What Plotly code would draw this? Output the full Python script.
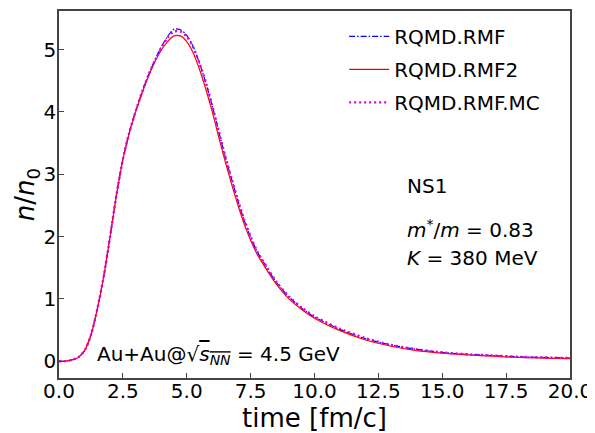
import plotly.graph_objects as go

t = [0, 0.25, 0.5, 0.75, 1.0, 1.25, 1.5, 1.75, 2.0, 2.25, 2.5, 2.75, 3.0, 3.25, 3.5, 3.75,
     4.0, 4.25, 4.5, 4.75, 5.0, 5.25, 5.5, 5.75, 6.0, 6.25, 6.5, 6.75, 7.0, 7.25, 7.5, 7.75,
     8.0, 8.5, 9.0, 9.5, 10, 11, 12, 13, 14, 15, 16, 17, 18, 19, 20]

rmf2 = [0.0, 0.0, 0.02, 0.06, 0.17, 0.42, 0.84, 1.36, 2.00, 2.67, 3.23, 3.66, 4.00, 4.30, 4.57, 4.80,
        4.99, 5.13, 5.22, 5.22, 5.13, 4.95, 4.68, 4.36, 4.00, 3.60, 3.21, 2.85, 2.51, 2.20, 1.94, 1.72,
        1.55, 1.24, 1.00, 0.83, 0.69, 0.49, 0.34, 0.24, 0.17, 0.13, 0.10, 0.08, 0.06, 0.05, 0.04]

rmf = [0.0, 0.0, 0.02, 0.06, 0.17, 0.42, 0.84, 1.36, 2.00, 2.67, 3.24, 3.67, 4.01, 4.32, 4.59, 4.83,
       5.04, 5.21, 5.33, 5.32, 5.23, 5.05, 4.78, 4.46, 4.09, 3.69, 3.29, 2.93, 2.58, 2.26, 1.99, 1.76,
       1.59, 1.27, 1.03, 0.85, 0.71, 0.51, 0.36, 0.26, 0.19, 0.14, 0.11, 0.09, 0.07, 0.06, 0.05]

rmf_mc = [0.0, 0.0, 0.02, 0.06, 0.17, 0.42, 0.84, 1.36, 2.00, 2.67, 3.24, 3.67, 4.01, 4.32, 4.59, 4.82,
          5.03, 5.19, 5.29, 5.29, 5.21, 5.04, 4.78, 4.47, 4.10, 3.70, 3.30, 2.94, 2.59, 2.27, 2.00, 1.77,
          1.60, 1.28, 1.04, 0.86, 0.72, 0.52, 0.37, 0.26, 0.19, 0.14, 0.11, 0.09, 0.07, 0.06, 0.05]

x_ticks = [0.0, 2.5, 5.0, 7.5, 10.0, 12.5, 15.0, 17.5, 20.0]
x_tick_labels = ["0.0", "2.5", "5.0", "7.5", "10.0", "12.5", "15.0", "17.5", "20.0"]
y_ticks = [0, 1, 2, 3, 4, 5]

FONT = "DejaVu Sans"
AX = "#444444"

fig = go.Figure()
fig.add_trace(go.Scatter(x=t, y=rmf, mode="lines", name="RQMD.RMF", legendgroup="a",
                         line=dict(color="#0000ff", width=1.2, dash="6px,2px,1.5px,2px",
                                   shape="spline", smoothing=0.8)))
fig.add_trace(go.Scatter(x=t, y=rmf2, mode="lines", name="RQMD.RMF2", legendgroup="b",
                         line=dict(color="#ff0000", width=1.2, shape="spline", smoothing=0.8)))
fig.add_trace(go.Scatter(x=t, y=rmf_mc, mode="lines", name="RQMD.RMF.MC", legendgroup="c",
                         line=dict(color="#dd00dd", width=2.4, dash="2px,3px",
                                   shape="spline", smoothing=0.8)))

# The page body has an 8px default margin, so the figure is 8px smaller and margins shifted.
fig.update_layout(
    width=587, height=425,
    margin=dict(l=51, r=25, t=3, b=55),
    plot_bgcolor="white", paper_bgcolor="white",
    font=dict(family=FONT, size=20, color="black"),
    showlegend=True,
    legend=dict(x=0.558, y=0.984, xanchor="left", yanchor="top", bgcolor="rgba(0,0,0,0)",
                font=dict(size=20), tracegroupgap=4, itemwidth=40),
    xaxis=dict(range=[0, 20], tickvals=x_ticks, ticktext=x_tick_labels, ticks="inside", ticklen=5,
               tickcolor=AX, showline=True, linecolor=AX, linewidth=1.5, mirror=True,
               showgrid=False, zeroline=False, automargin=False, tickfont=dict(size=20),
               title=dict(text="time [fm/c]", font=dict(size=26), standoff=5)),
    yaxis=dict(range=[-0.27, 5.62], tickvals=y_ticks, ticks="inside", ticklen=5,
               tickcolor=AX, showline=True, linecolor=AX, linewidth=1.5, mirror=True,
               showgrid=False, zeroline=False, automargin=False, tickfont=dict(size=20),
               title=dict(text="<i>n</i>/<i>n</i><sub>0</sub>", font=dict(size=26), standoff=0)),
)

try:
    fig.update_xaxes(ticklabelstandoff=-6)
    fig.update_yaxes(ticklabelstandoff=-3)
except Exception:
    pass

fig.add_annotation(x=0.677, y=0.523, xref="paper", yref="paper", xanchor="left", yanchor="middle",
                   text="NS1", showarrow=False, font=dict(size=20))
fig.add_annotation(x=0.677, y=0.405, xref="paper", yref="paper", xanchor="left", yanchor="middle",
                   text="<i>m</i><sup>*</sup>/<i>m</i> = 0.83", showarrow=False, font=dict(size=20))
fig.add_annotation(x=0.677, y=0.327, xref="paper", yref="paper", xanchor="left", yanchor="middle",
                   text="<i>K</i> = 380 MeV", showarrow=False, font=dict(size=20))
fig.add_annotation(x=0.07, y=0.064, xref="paper", yref="paper", xanchor="left", yanchor="middle",
                   text="Au+Au@√<span style='text-decoration:overline'><i>s</i><sub><i>NN</i></sub></span> = 4.5 GeV",
                   showarrow=False, font=dict(size=20))

fig.write_html("out.html")
